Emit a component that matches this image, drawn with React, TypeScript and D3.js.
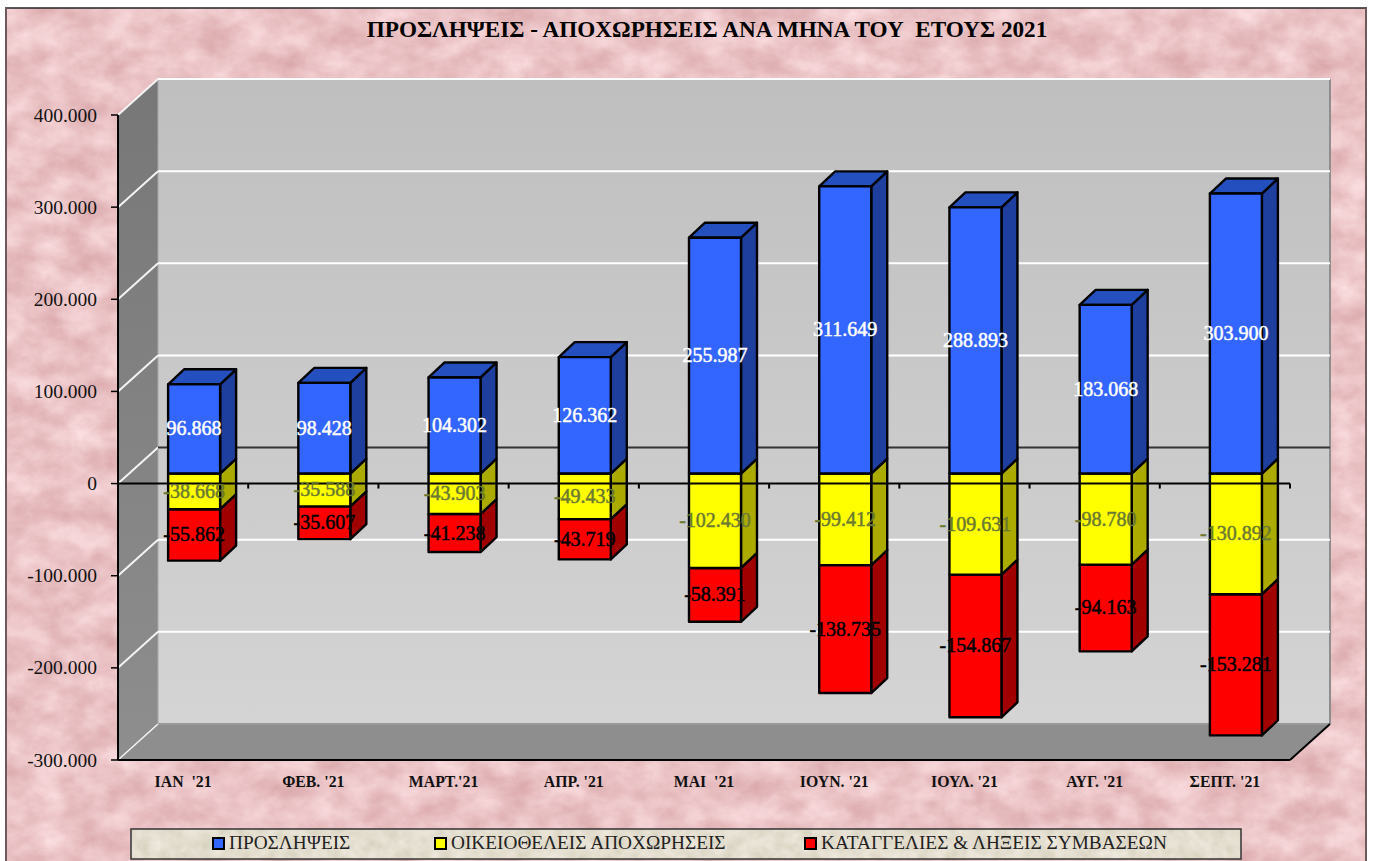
import React from "react";
import * as d3 from "d3";

const title = "ΠΡΟΣΛΗΨΕΙΣ - ΑΠΟΧΩΡΗΣΕΙΣ ΑΝΑ ΜΗΝΑ ΤΟΥ  ΕΤΟΥΣ 2021";
const months = ["ΙΑΝ  '21", "ΦΕΒ. '21", "ΜΑΡΤ.'21", "ΑΠΡ. '21", "ΜΑΙ  '21", "ΙΟΥΝ. '21", "ΙΟΥΛ. '21", "ΑΥΓ. '21", "ΣΕΠΤ. '21"];
const hires = [96868, 98428, 104302, 126362, 255987, 311649, 288893, 183068, 303900];
const voluntary = [-38668, -35588, -43903, -49433, -102430, -99412, -109631, -98780, -130892];
const layoffs = [-55862, -35607, -41238, -43719, -58391, -138735, -154867, -94163, -153281];
const ticks = [400000, 300000, 200000, 100000, 0, -100000, -200000, -300000];
const seriesNames = ["ΠΡΟΣΛΗΨΕΙΣ", "ΟΙΚΕΙΟΘΕΛΕΙΣ ΑΠΟΧΩΡΗΣΕΙΣ", "ΚΑΤΑΓΓΕΛΙΕΣ & ΛΗΞΕΙΣ ΣΥΜΒΑΣΕΩΝ"];
const legendX = [213, 435, 805];

const F = "'Liberation Serif', serif";
const L = 118, R = 1290, DX = 40, DY = 36;
const y = d3.scaleLinear().domain([-300000, 400000]).range([760, 115]);
const x = d3.scaleBand<number>().domain(d3.range(months.length)).range([L, R]);
const fmt = (v: number) => (v < 0 ? "-" : "") + Math.abs(v).toString().replace(/\B(?=(\d{3})+(?!\d))/g, ".");
const BW = 52, ZX = 11, ZY = 10, SX = 16, SY = 15;
const poly = (p: number[][]) => p.map((a) => a.join(",")).join(" ");

const colors = [
  { f: "#3366ff", s: "#1f3f9f", t: "#2450bf", l: "#ffffff" },
  { f: "#ffff00", s: "#aaaa00", t: "#cccc00", l: "#6b7a30" },
  { f: "#ff0000", s: "#a00000", t: "#c00000", l: "#000000" },
];

function Bar({ i, from, to, c, top }: { i: number; from: number; to: number; c: number; top?: boolean }) {
  const x0 = (x(i) as number) + x.bandwidth() / 2 + ZX - BW / 2;
  const x1 = x0 + BW;
  const yA = y(Math.max(from, to)) - ZY;
  const yB = y(Math.min(from, to)) - ZY;
  const col = colors[c];
  return (
    <g stroke="#000" strokeWidth={2.4} strokeLinejoin="round">
      <polygon points={poly([[x1, yA], [x1 + SX, yA - SY], [x1 + SX, yB - SY], [x1, yB]])} fill={col.s} />
      {top && <polygon points={poly([[x0, yA], [x0 + SX, yA - SY], [x1 + SX, yA - SY], [x1, yA]])} fill={col.t} />}
      <rect x={x0} y={yA} width={BW} height={yB - yA} fill={col.f} />
    </g>
  );
}

function Label({ i, from, to, c }: { i: number; from: number; to: number; c: number }) {
  const cx = (x(i) as number) + x.bandwidth() / 2 + ZX;
  const col = colors[c];
  return (
    <text x={cx} y={(y(from) + y(to)) / 2 - ZY + 6.5} textAnchor="middle" fontFamily={F} fontSize={20}
      fill={col.l} stroke={col.l} strokeWidth={0.5}>
      {fmt(to - from)}
    </text>
  );
}

export default function App() {
  const n = months.length;
  const idx = d3.range(n);
  const wallTop = y(400000) - DY, wallBottom = y(-300000) - DY;
  return (
    <svg width={1374} height={861} viewBox="0 0 1374 861"
      style={{ position: "fixed", left: 0, top: 0, display: "block", background: "#fff" }}>
      <defs>
        <filter id="pink" x="0" y="0" width="100%" height="100%" colorInterpolationFilters="sRGB">
          <feTurbulence type="fractalNoise" baseFrequency="0.03 0.04" numOctaves={5} seed={11} />
          <feColorMatrix type="matrix" values="0.16 0 0 0 0.84  0.26 0 0 0 0.635  0.26 0 0 0 0.645  0 0 0 0 1" />
        </filter>
        <filter id="beige" x="0" y="0" width="100%" height="100%" colorInterpolationFilters="sRGB">
          <feTurbulence type="fractalNoise" baseFrequency="0.08" numOctaves={4} seed={5} />
          <feColorMatrix type="matrix" values="0.12 0 0 0 0.83  0.12 0 0 0 0.81  0.16 0 0 0 0.73  0 0 0 0 1" />
        </filter>
        <linearGradient id="wall" x1="0" y1="0" x2="0" y2="1">
          <stop offset="0" stopColor="#bfbfbf" />
          <stop offset="1" stopColor="#d4d4d4" />
        </linearGradient>
        <linearGradient id="side" x1="0" y1="0" x2="0" y2="1">
          <stop offset="0" stopColor="#777777" />
          <stop offset="1" stopColor="#8e8e8e" />
        </linearGradient>
      </defs>

      <rect x={6} y={8} width={1360} height={853} filter="url(#pink)" />
      <line x1={5} y1={8} x2={1367} y2={8} stroke="#222" strokeWidth={1.5} />
      <line x1={6} y1={8} x2={6} y2={861} stroke="#6e5a5c" strokeWidth={2} />
      <line x1={1366} y1={8} x2={1366} y2={861} stroke="#6e5a5c" strokeWidth={2} />

      <text x={707} y={37} textAnchor="middle" fontFamily={F} fontWeight="bold" fontSize={23.2} fill="#000" xmlSpace="preserve">{title}</text>

      {/* walls */}
      <rect x={L + DX} y={wallTop} width={R - L} height={wallBottom - wallTop} fill="url(#wall)" />
      <polygon points={poly([[L, y(400000)], [L + DX, wallTop], [L + DX, wallBottom], [L, y(-300000)]])} fill="url(#side)" />
      <polygon points={poly([[L, y(-300000)], [L + DX, wallBottom], [R + DX, wallBottom], [R, y(-300000)]])} fill="#8e8e8e" />
      <line x1={R + DX} y1={wallTop} x2={R + DX} y2={wallBottom} stroke="#8e8e8e" strokeWidth={2} />
      <line x1={L + DX} y1={wallBottom} x2={R + DX} y2={wallBottom} stroke="#9a9a9a" strokeWidth={2} />
      <line x1={L + DX} y1={wallTop} x2={L + DX} y2={wallBottom} stroke="#a8a8a8" strokeWidth={1} />

      {/* gridlines */}
      {ticks.map((t) => (
        <g key={t}>
          <line x1={L} y1={y(t)} x2={L + DX} y2={y(t) - DY} stroke="#f4f4f4" strokeWidth={t === -300000 ? 1.5 : 2} />
          {t !== -300000 && (
            <line x1={L + DX} y1={y(t) - DY} x2={R + DX} y2={y(t) - DY}
              stroke={t === 0 ? "#333333" : "#ffffff"} strokeWidth={2} />
          )}
        </g>
      ))}

      {/* floor front edges */}
      <line x1={R} y1={y(-300000)} x2={R + DX} y2={wallBottom} stroke="#000" strokeWidth={2} />
      <line x1={L} y1={y(-300000)} x2={R} y2={y(-300000)} stroke="#000" strokeWidth={2} />
      <line x1={L} y1={y(400000)} x2={L} y2={y(-300000)} stroke="#000" strokeWidth={2} />

      {/* bars */}
      {idx.map((i) => (
        <g key={i}>
          <Bar i={i} from={voluntary[i]} to={voluntary[i] + layoffs[i]} c={2} />
          <Bar i={i} from={0} to={voluntary[i]} c={1} />
          <Bar i={i} from={0} to={hires[i]} c={0} top />
        </g>
      ))}

      {/* axes */}
      {ticks.map((t) => (
        <g key={t}>
          <line x1={L - 7} y1={y(t)} x2={L} y2={y(t)} stroke="#000" strokeWidth={1.5} />
          <text x={L - 21} y={y(t) + 6.5} textAnchor="end" fontFamily={F} fontSize={19.5} fill="#111">{fmt(t)}</text>
        </g>
      ))}
      <line x1={L} y1={y(0)} x2={R} y2={y(0)} stroke="#000" strokeWidth={2} />
      {d3.range(n + 1).map((i) => {
        const tx = i === n ? R : (x(i) as number);
        return <line key={i} x1={tx} y1={y(0)} x2={tx} y2={y(0) + 5} stroke="#000" strokeWidth={2} />;
      })}

      {/* labels */}
      {idx.map((i) => (
        <g key={i}>
          <Label i={i} from={0} to={hires[i]} c={0} />
          <Label i={i} from={0} to={voluntary[i]} c={1} />
          <Label i={i} from={voluntary[i]} to={voluntary[i] + layoffs[i]} c={2} />
        </g>
      ))}

      {months.map((m, i) => (
        <text key={m} x={(x(i) as number) + x.bandwidth() / 2} y={787} textAnchor="middle" fontFamily={F}
          fontWeight="bold" fontSize={15.8} fill="#111" xmlSpace="preserve">{m}</text>
      ))}

      {/* legend */}
      <rect x={131} y={829} width={1110} height={30} filter="url(#beige)" />
      <rect x={131} y={829} width={1110} height={30} fill="none" stroke="#333" strokeWidth={1.5} />
      {seriesNames.map((s, i) => (
        <g key={s}>
          <rect x={legendX[i]} y={838} width={11} height={11} fill={colors[i].f} stroke="#000" strokeWidth={2} />
          <text x={legendX[i] + 16} y={849} fontFamily={F} fontSize={19.3} fill="#222">{s}</text>
        </g>
      ))}
    </svg>
  );
}
